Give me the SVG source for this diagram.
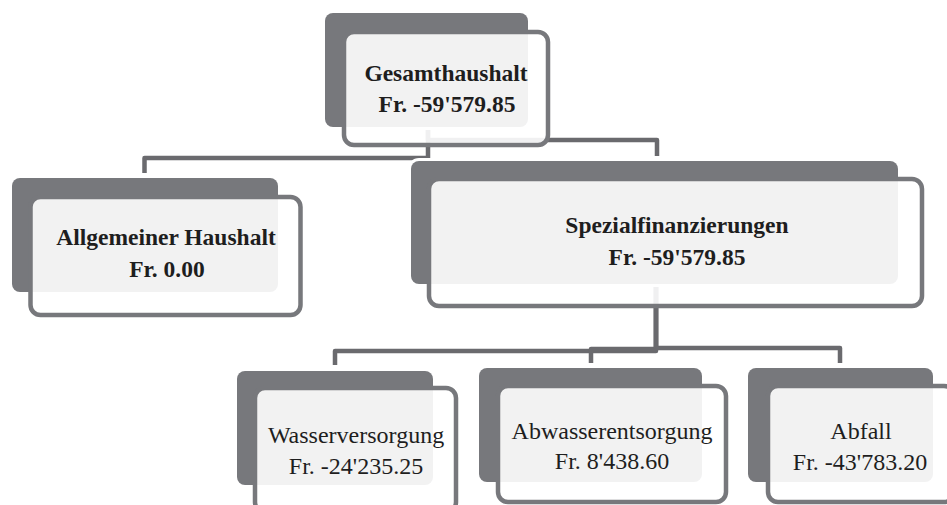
<svg xmlns="http://www.w3.org/2000/svg" width="947" height="505" viewBox="0 0 947 505">
<style>
.back{fill:#77787c;stroke:#ffffff;stroke-width:6;paint-order:stroke}
.front{fill:#ffffff;fill-opacity:0.9;stroke:#77787c;stroke-width:4.5}
.conn{fill:none;stroke:#6a6a6e;stroke-width:4.5;stroke-linejoin:round}
text{font-family:"Liberation Serif","Times New Roman",serif;font-size:24px;fill:#1e1e1e;text-anchor:middle}
.b{font-weight:bold;font-size:23.5px}
</style>
<rect width="947" height="505" fill="#ffffff"/>
<g id="connectors">
<path class="conn" d="M428 127 V158 H144.5 V173"/>
<path class="conn" d="M428 127 V140 H657 V156"/>
<path class="conn" d="M656 284 V351 H335 V365"/>
<path class="conn" d="M656 284 V349 H591 V363"/>
<path class="conn" d="M656 284 V348 H840 V363"/>
</g>
<g id="node-gesamthaushalt">
<rect class="back" x="325" y="13" width="203" height="114" rx="8"/>
<rect class="front" x="344" y="32" width="204" height="113" rx="10"/>
<text class="b" x="446" y="81">Gesamthaushalt</text>
<text class="b" x="447" y="112">Fr. -59'579.85</text>
</g>
<g id="node-allgemeiner-haushalt">
<rect class="back" x="12" y="178" width="266" height="114" rx="8"/>
<rect class="front" x="30.5" y="197" width="270" height="118" rx="10"/>
<text class="b" x="166" y="245">Allgemeiner Haushalt</text>
<text class="b" x="167" y="277">Fr. 0.00</text>
</g>
<g id="node-spezialfinanzierungen">
<rect class="back" x="411" y="161" width="487" height="123" rx="8"/>
<rect class="front" x="429" y="179" width="493" height="127" rx="10"/>
<text class="b" x="677" y="233">Spezialfinanzierungen</text>
<text class="b" x="677" y="265">Fr. -59'579.85</text>
</g>
<g id="node-wasserversorgung">
<rect class="back" x="237" y="371" width="196" height="114" rx="8"/>
<rect class="front" x="255" y="388" width="201" height="124" rx="10"/>
<text x="356" y="443">Wasserversorgung</text>
<text x="356" y="474">Fr. -24'235.25</text>
</g>
<g id="node-abwasserentsorgung">
<rect class="back" x="479" y="368" width="223" height="114" rx="8"/>
<rect class="front" x="498" y="386" width="228" height="116" rx="10"/>
<text x="612" y="439">Abwasserentsorgung</text>
<text x="612" y="469">Fr. 8'438.60</text>
</g>
<g id="node-abfall">
<rect class="back" x="748" y="368" width="185" height="114" rx="8"/>
<rect class="front" x="768" y="386" width="186" height="116" rx="10"/>
<text x="861" y="439">Abfall</text>
<text x="860" y="470">Fr. -43'783.20</text>
</g>
</svg>
